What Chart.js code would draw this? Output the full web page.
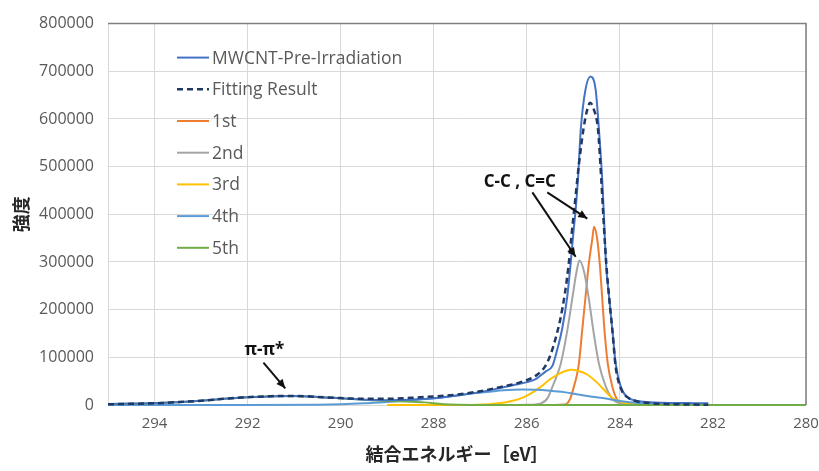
<!DOCTYPE html>
<html>
<head>
<meta charset="utf-8">
<script src="https://cdn.jsdelivr.net/npm/chart.js@4.4.1/dist/chart.umd.min.js"></script>
<style>
  html, body { margin: 0; padding: 0; background: #ffffff; }
  #wrap { width: 819px; height: 471px; position: relative; }
</style>
</head>
<body>
<div id="wrap"><canvas id="c" width="819" height="471"></canvas></div>
<script>
// ---- Data (binding energy eV, intensity) ----
const xTicks = [280, 282, 284, 286, 288, 290, 292, 294];
const yTicks = [0, 100000, 200000, 300000, 400000, 500000, 600000, 700000, 800000];

const seriesNames = ["MWCNT-Pre-Irradiation", "Fitting Result", "1st", "2nd", "3rd", "4th", "5th"];

const measE = [295, 294.5, 294, 293.5, 293, 292.5, 292, 291.5, 291, 290.5, 290, 289.5, 289, 288.5, 288, 287.5, 287, 286.6, 286.3, 286.0, 285.8, 285.6, 285.45, 285.35, 285.24, 285.13, 285.06, 285.0, 284.95, 284.9, 284.84, 284.74, 284.63, 284.52, 284.45, 284.38, 284.34, 284.30, 284.23, 284.16, 284.09, 283.98, 283.85, 283.7, 283.5, 283.1, 282.5, 282.1];
const measI = [2000, 3000, 4000, 6000, 9000, 13000, 16000, 18000, 19000, 17000, 14000, 11000, 10000, 11000, 14000, 20000, 27000, 35000, 41500, 48000, 55000, 70000, 82000, 115000, 160000, 228000, 295000, 360000, 410000, 474000, 578000, 661000, 689000, 661000, 578000, 474000, 391000, 300000, 225000, 156000, 86600, 38000, 17000, 10000, 7000, 4800, 4000, 3500];

const fitE = [295, 294.5, 294, 293.5, 293, 292.5, 292, 291.5, 291.2, 290.8, 290.5, 290, 289.5, 289, 288.5, 288, 287.5, 287, 286.6, 286.13, 285.8, 285.6, 285.48, 285.38, 285.28, 285.18, 285.1, 285.04, 284.96, 284.88, 284.78, 284.7, 284.64, 284.56, 284.47, 284.40, 284.34, 284.29, 284.23, 284.16, 284.09, 283.97, 283.8, 283.6, 283.3, 283.0, 282.5, 282.1];
const fitI = [1500, 2500, 3500, 6000, 9000, 13000, 16500, 18500, 19000, 18500, 17000, 14500, 13000, 13000, 15000, 18000, 22000, 29000, 37000, 48000, 62000, 82000, 108000, 140000, 180000, 235000, 295000, 355000, 430000, 505000, 580000, 620000, 634000, 620000, 578000, 474000, 370000, 294000, 225000, 156000, 80000, 33000, 14000, 7000, 3500, 2000, 1000, 500];

const c1E = [286.0, 285.4, 285.2, 285.13, 285.06, 284.99, 284.93, 284.88, 284.81, 284.74, 284.67, 284.59, 284.555, 284.49, 284.43, 284.38, 284.33, 284.26, 284.16, 284.08, 284.02, 283.95, 283.8, 283.5];
const c1I = [0, 0, 1000, 3500, 15000, 38000, 60000, 86600, 156000, 225000, 294000, 350000, 374000, 350000, 294000, 225000, 156000, 86600, 38000, 15000, 7000, 3000, 800, 0];

const c2E = [286.5, 286.0, 285.7, 285.55, 285.45, 285.36, 285.27, 285.13, 285.02, 284.93, 284.87, 284.77, 284.67, 284.57, 284.45, 284.30, 284.18, 284.09, 283.95, 283.8, 283.5];
const c2I = [0, 500, 3500, 15000, 38000, 60000, 86600, 156000, 225000, 280000, 303000, 280000, 225000, 156000, 86600, 38000, 15000, 7000, 2000, 500, 0];

const c3E = [289, 287.2, 286.9, 286.6, 286.3, 286.1, 285.9, 285.7, 285.5, 285.3, 285.15, 285.05, 284.9, 284.7, 284.5, 284.35, 284.2, 284.05, 283.9, 283.7, 283.4, 283];
const c3I = [0, 0, 1000, 3500, 9000, 15000, 25000, 38000, 54000, 66000, 72000, 74000, 72000, 64000, 48000, 33000, 18000, 9000, 4000, 1500, 300, 0];

const c4E = [295, 292, 290.5, 290, 289.5, 289, 288.5, 288, 287.5, 287.2, 286.8, 286.5, 286.1, 285.8, 285.5, 285.2, 284.9, 284.6, 284.3, 284.0, 283.6, 283.2, 282.8, 282.4, 282];
const c4I = [0, 0, 500, 1500, 3500, 6500, 10000, 14000, 20000, 24000, 28000, 31000, 32500, 32000, 30000, 27000, 22000, 17500, 13500, 8500, 4000, 2000, 1000, 300, 0];

const c5E = [295, 294.5, 294, 293.5, 293, 292.5, 292, 291.5, 291.2, 290.8, 290.5, 290, 289.5, 289, 288.5, 288.2, 287.8, 287.5, 287, 280];
const c5I = [1500, 2500, 3500, 6000, 9000, 13000, 16500, 18500, 19000, 18500, 17000, 14000, 11000, 8500, 7000, 5500, 1500, 300, 0, 0];

// annotations in data coordinates (eV, intensity)
const noteCC = {text: "C-C , C=C", e: 286.15, v: 467000};
const arrowsCC = [
  {e1: 285.88, v1: 446000, e2: 284.95, v2: 311000},
  {e1: 285.56, v1: 446000, e2: 284.70, v2: 391000}
];
const notePi = {text: "π-π*", e: 291.64, v: 114000};
const arrowPi = {e1: 291.66, v1: 89000, e2: 291.19, v2: 35000};

// ---- build ----
function pts(E, I) { return E.map((e, i) => ({x: e, y: I[i]})); }
const colors = ["#4472C4", "#203864", "#ED7D31", "#A5A5A5", "#FFC000", "#5B9BD5", "#70AD47"];
const dataSets = [pts(measE, measI), pts(fitE, fitI), pts(c1E, c1I), pts(c2E, c2I), pts(c3E, c3I), pts(c4E, c4I), pts(c5E, c5I)];

const datasets = dataSets.map((d, i) => ({
  label: seriesNames[i],
  data: d,
  borderColor: colors[i],
  backgroundColor: colors[i],
  borderWidth: i === 1 ? 2.5 : 2,
  borderDash: i === 1 ? [6, 4] : [],
  pointRadius: 0,
  fill: false,
  tension: 0.4,
  cubicInterpolationMode: 'monotone',
  clip: false,
  order: i === 1 ? 0 : (i === 0 ? 1 : 8 - i)
}));

const FAM = "'Open Sans', 'Liberation Sans', sans-serif";
const gray = "#595959";

const legendPlugin = {
  id: 'innerLegend',
  afterDatasetsDraw(chart) {
    const ctx = chart.ctx;
    ctx.save();
    ctx.font = "17.5px " + FAM;
    ctx.textBaseline = 'middle';
    const x0 = chart.chartArea.left + 69;
    const y0 = chart.chartArea.top + 34;
    chart.data.datasets.forEach((ds, i) => {
      const y = y0 + i * 31.7;
      ctx.strokeStyle = ds.borderColor;
      ctx.lineWidth = ds.borderWidth;
      ctx.setLineDash(ds.borderDash || []);
      ctx.beginPath();
      ctx.moveTo(x0, y);
      ctx.lineTo(x0 + 32, y);
      ctx.stroke();
      ctx.setLineDash([]);
      ctx.fillStyle = gray;
      ctx.textAlign = 'left';
      ctx.fillText(ds.label, x0 + 35, y + 1);
    });
    ctx.restore();
  }
};

function arrow(ctx, x1, y1, x2, y2) {
  ctx.beginPath();
  ctx.moveTo(x1, y1);
  ctx.lineTo(x2, y2);
  ctx.stroke();
  const a = Math.atan2(y2 - y1, x2 - x1);
  const L = 9, W = 4;
  ctx.beginPath();
  ctx.moveTo(x2, y2);
  ctx.lineTo(x2 - L * Math.cos(a) + W * Math.sin(a), y2 - L * Math.sin(a) - W * Math.cos(a));
  ctx.lineTo(x2 - L * Math.cos(a) - W * Math.sin(a), y2 - L * Math.sin(a) + W * Math.cos(a));
  ctx.closePath();
  ctx.fill();
}

const notePlugin = {
  id: 'notes',
  afterDraw(chart) {
    const {ctx, scales: {x, y}, chartArea} = chart;
    ctx.save();
    // frame: top and right edges
    ctx.strokeStyle = "#7f7f7f";
    ctx.lineWidth = 1.5;
    ctx.beginPath();
    ctx.moveTo(chartArea.left, chartArea.top);
    ctx.lineTo(chartArea.right, chartArea.top);
    ctx.lineTo(chartArea.right, chartArea.bottom);
    ctx.stroke();

    ctx.fillStyle = "#111";
    ctx.strokeStyle = "#111";
    ctx.lineWidth = 2;
    ctx.font = "bold 17px " + FAM;
    ctx.textAlign = 'center';
    ctx.textBaseline = 'middle';
    ctx.fillText(noteCC.text, x.getPixelForValue(noteCC.e), y.getPixelForValue(noteCC.v));
    arrowsCC.forEach(a => arrow(ctx, x.getPixelForValue(a.e1), y.getPixelForValue(a.v1), x.getPixelForValue(a.e2), y.getPixelForValue(a.v2)));
    ctx.fillText(notePi.text, x.getPixelForValue(notePi.e), y.getPixelForValue(notePi.v));
    arrow(ctx, x.getPixelForValue(arrowPi.e1), y.getPixelForValue(arrowPi.v1), x.getPixelForValue(arrowPi.e2), y.getPixelForValue(arrowPi.v2));
    ctx.restore();
  }
};

new Chart(document.getElementById('c'), {
  type: 'line',
  data: {datasets},
  options: {
    responsive: false,
    animation: false,
    parsing: true,
    layout: {padding: {left: 0, right: 0, top: 20, bottom: 0}},
    plugins: {legend: {display: false}, tooltip: {enabled: false}},
    scales: {
      x: {
        type: 'linear',
        reverse: true,
        min: 280,
        max: 295,
        afterBuildTicks(scale) { scale.ticks = xTicks.map(v => ({value: v})); },
        afterFit(scale) { scale.height = 66; scale.paddingLeft = 0; scale.paddingRight = 13; },
        ticks: {color: gray, font: {family: FAM, size: 15}, padding: 10, autoSkip: false, maxRotation: 0,
                callback: v => String(v)},
        grid: {color: "#d9d9d9", lineWidth: 1, drawTicks: false},
        border: {display: false},
        title: {display: true, text: "結合エネルギー［eV］", color: "#262626",
                font: {family: "'Noto Sans CJK JP', sans-serif", size: 18, weight: 'bold'},
                padding: {top: 6, bottom: 6}}
      },
      y: {
        min: 0,
        max: 800000,
        afterBuildTicks(scale) { scale.ticks = yTicks.map(v => ({value: v})); },
        afterFit(scale) { scale.width = 108; },
        ticks: {color: gray, font: {family: FAM, size: 16}, padding: 14, callback: v => String(v)},
        grid: {color: "#d9d9d9", lineWidth: 1, drawTicks: false},
        border: {display: true, color: "#d9d9d9"},
        title: {display: true, text: "強度", color: "#262626",
                font: {family: "'Noto Sans CJK JP', sans-serif", size: 18, weight: 'bold'},
                padding: {top: 10, bottom: 0}}
      }
    }
  },
  plugins: [legendPlugin, notePlugin]
});
</script>
</body>
</html>
